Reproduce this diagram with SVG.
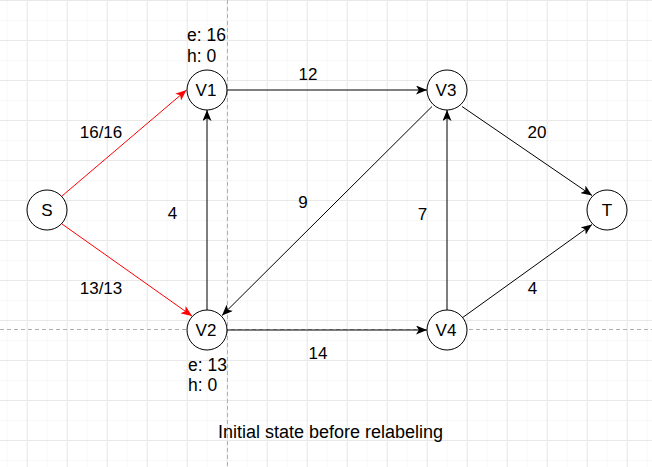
<svg xmlns="http://www.w3.org/2000/svg" width="652" height="467" viewBox="0 0 652 467">
<defs>
<pattern id="gridMinor" x="6.7" y="0" width="20" height="20" patternUnits="userSpaceOnUse">
<path d="M20,0 L0,0 0,20" fill="none" stroke="#f2f2f2" stroke-width="1"/>
</pattern>
<pattern id="gridMajor" x="26.7" y="0" width="40" height="40" patternUnits="userSpaceOnUse">
<path d="M40,0.5 L0.5,0.5 0.5,40" fill="none" stroke="#e8e8e8" stroke-width="1"/>
</pattern>
<marker id="arrB" markerUnits="userSpaceOnUse" viewBox="0 0 11 9" refX="11" refY="4.5" markerWidth="11" markerHeight="9" orient="auto">
<path d="M0,0 L11,4.5 L0,9 L2.8,4.5 Z" fill="#000"/>
</marker>
<marker id="arrR" markerUnits="userSpaceOnUse" viewBox="0 0 11 9" refX="11" refY="4.5" markerWidth="11" markerHeight="9" orient="auto">
<path d="M0,0 L11,4.5 L0,9 L2.8,4.5 Z" fill="#ff0000"/>
</marker>
</defs>
<style>
.node circle{fill:#fff;stroke:#000;stroke-width:1}
.lbl{font-family:"Liberation Sans",Arial,sans-serif;font-size:17px;fill:#000;text-anchor:middle}
.elbl{font-family:"Liberation Sans",Arial,sans-serif;font-size:17px;fill:#000;text-anchor:middle}
.cap{font-family:"Liberation Sans",Arial,sans-serif;font-size:18px;fill:#000;text-anchor:middle}
.info{font-family:"Liberation Sans",Arial,sans-serif;font-size:17.5px;fill:#000}
.edge{fill:none;stroke:#000;stroke-width:1;marker-end:url(#arrB)}
.red{stroke:#ff0000;marker-end:url(#arrR)}
.guide{stroke:#b0b0b0;stroke-width:1;stroke-dasharray:4 3;fill:none}
</style>
<rect width="652" height="467" fill="#fff"/>
<rect width="652" height="467" fill="url(#gridMinor)"/>
<rect width="652" height="467" fill="url(#gridMajor)"/>
<line class="guide" x1="227.5" y1="0" x2="227.5" y2="467"/>
<line class="guide" x1="0" y1="329.5" x2="652" y2="329.5"/>

<g id="connectors">
<line class="edge red" x1="62" y1="196" x2="186.5" y2="90"/>
<line class="edge red" x1="62" y1="224" x2="192" y2="316"/>
<line class="edge" x1="207" y1="310" x2="207" y2="110"/>
<line class="edge" x1="227" y1="90" x2="427" y2="90"/>
<line class="edge" x1="432" y1="106.5" x2="222" y2="315.5"/>
<line class="edge" x1="462" y1="106.5" x2="592" y2="195.5"/>
<line class="edge" x1="227" y1="330" x2="427" y2="330"/>
<line class="edge" x1="447" y1="310" x2="447" y2="110"/>
<line class="edge" x1="462" y1="318" x2="592" y2="224.5"/>
<text class="elbl" x="101" y="138">16/16</text>
<text class="elbl" x="101" y="294">13/13</text>
<text class="elbl" x="308" y="80">12</text>
<text class="elbl" x="537" y="138">20</text>
<text class="elbl" x="172.5" y="219">4</text>
<text class="elbl" x="303" y="208">9</text>
<text class="elbl" x="422.5" y="220">7</text>
<text class="elbl" x="318" y="359">14</text>
<text class="elbl" x="532.5" y="294">4</text>
</g>

<g id="S" class="node"><circle cx="47" cy="210" r="20"/><text class="lbl" x="47" y="216">S</text></g>
<g id="V1" class="node"><circle cx="207" cy="90" r="20"/><text class="lbl" x="206" y="96">V1</text>
<text class="info" x="187" y="41">e: 16</text><text class="info" x="187" y="62">h: 0</text></g>
<g id="V2" class="node"><circle cx="207" cy="330" r="20"/><text class="lbl" x="206" y="336">V2</text>
<text class="info" x="188" y="371">e: 13</text><text class="info" x="188" y="391">h: 0</text></g>
<g id="V3" class="node"><circle cx="447" cy="90" r="20"/><text class="lbl" x="446" y="96">V3</text></g>
<g id="V4" class="node"><circle cx="447" cy="330" r="20"/><text class="lbl" x="446" y="336">V4</text></g>
<g id="T" class="node"><circle cx="607" cy="210" r="20"/><text class="lbl" x="607" y="216">T</text></g>

<text id="caption" class="cap" x="330.5" y="438">Initial state before relabeling</text>
</svg>
